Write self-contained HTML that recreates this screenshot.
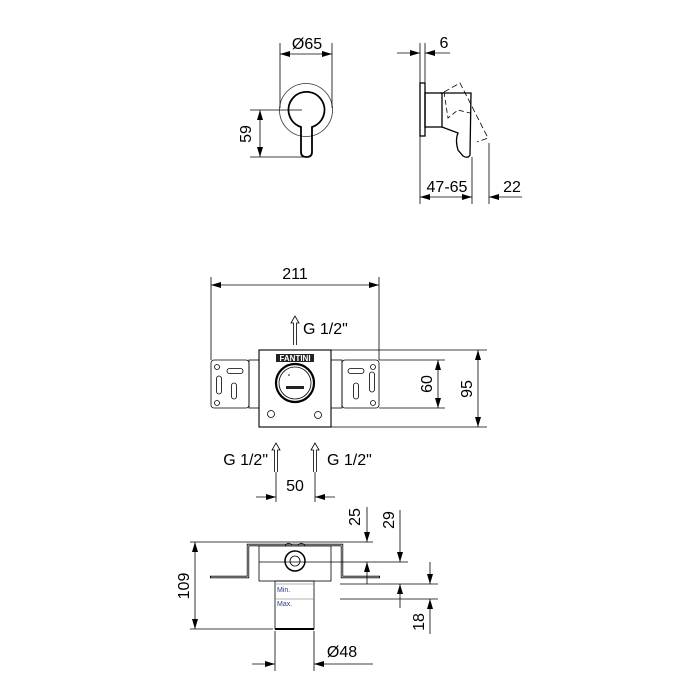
<!DOCTYPE html>
<html><head><meta charset="utf-8"><style>html,body{margin:0;padding:0;background:#fff}svg{display:block}text{font-family:"Liberation Sans",sans-serif;font-size:16px;fill:#000}</style></head><body>
<svg width="700" height="700" viewBox="0 0 700 700" xmlns="http://www.w3.org/2000/svg">
<defs>
<marker id="a" viewBox="0 0 10 6" refX="10" refY="3" markerWidth="10" markerHeight="6" orient="auto-start-reverse" markerUnits="userSpaceOnUse"><path d="M0,0 L10,3 L0,6z" fill="#000"/></marker>
</defs>
<g stroke="#000" stroke-width="0.8" fill="none">
<circle cx="306" cy="110" r="26.5" stroke="#333"/>
<path d="M301,127 A18,18 0 1 1 312,127 L312,152 Q312,157 306.5,157 Q301,157 301,152 Z" stroke-width="1.8"/>
<line x1="280" y1="43" x2="280" y2="108"/><line x1="332" y1="43" x2="332" y2="108"/>
<line x1="280" y1="54" x2="332" y2="54" marker-start="url(#a)" marker-end="url(#a)"/>
<line x1="250" y1="110" x2="302" y2="110"/><line x1="250" y1="157" x2="304" y2="157"/>
<line x1="260" y1="110" x2="260" y2="157" marker-start="url(#a)" marker-end="url(#a)"/>
<rect x="420" y="83" width="5" height="53" stroke-width="1.3"/>
<rect x="425" y="93" width="17" height="34" stroke-width="1.3"/>
<path d="M440,93 L471,93 L470,155 Q468,159 463,156 L458,150 Q455,140 458,133 L442,127" stroke-width="1.3"/>
<path d="M444,92 L460,83 L488,138 L477,142" stroke-dasharray="6,3"/>
<path d="M444,92 L448,118 L458,110 L470,113" stroke-dasharray="5,3"/>
<line x1="420" y1="43" x2="420" y2="83"/><line x1="425" y1="43" x2="425" y2="83"/>
<line x1="397" y1="53" x2="420" y2="53" marker-end="url(#a)"/><line x1="450" y1="53" x2="425" y2="53" marker-end="url(#a)"/>
<line x1="420" y1="136" x2="420" y2="204"/><line x1="472" y1="157" x2="472" y2="204"/><line x1="489" y1="143" x2="489" y2="204"/>
<line x1="420" y1="197" x2="472" y2="197" marker-start="url(#a)" marker-end="url(#a)"/>
<line x1="522" y1="197" x2="489" y2="197" marker-end="url(#a)"/>
<line x1="211" y1="277" x2="211" y2="360"/><line x1="379" y1="277" x2="379" y2="360"/>
<line x1="211" y1="285" x2="379" y2="285" marker-start="url(#a)" marker-end="url(#a)"/>
<rect x="211" y="360" width="38" height="48" rx="3"/>
<rect x="249" y="360" width="10" height="48"/>
<rect x="331" y="360" width="11" height="48"/>
<rect x="342" y="360" width="37" height="48" rx="3"/>
<rect x="259" y="350" width="72" height="77" stroke-width="1.1"/>
<line x1="331" y1="350" x2="487" y2="350"/><line x1="331" y1="427" x2="487" y2="427"/>
<line x1="379" y1="360" x2="445" y2="360"/><line x1="379" y1="408" x2="445" y2="408"/>
<line x1="438" y1="360" x2="438" y2="408" marker-start="url(#a)" marker-end="url(#a)"/>
<line x1="478" y1="350" x2="478" y2="427" marker-start="url(#a)" marker-end="url(#a)"/>
<circle cx="295" cy="383" r="19" stroke-width="2.2"/><circle cx="295" cy="383" r="16"/>
<circle cx="271" cy="414" r="3.5"/><circle cx="318" cy="415" r="3.5"/>
<circle cx="217" cy="367" r="2.5"/><circle cx="217" cy="403" r="2.5"/>
<rect x="227" y="368.5" width="16" height="5" rx="2.5"/>
<rect x="216.5" y="376" width="5" height="18" rx="2.5"/><rect x="231.5" y="383" width="5" height="16" rx="2.5"/>
<circle cx="373" cy="367" r="2.5"/><circle cx="373" cy="403" r="2.5"/>
<rect x="348" y="368.5" width="16" height="5" rx="2.5"/>
<rect x="369.5" y="372" width="5" height="20" rx="2.5"/><rect x="353.5" y="383" width="5" height="16" rx="2.5"/>
<path d="M293.5,345 L293.5,323 L291,323 L295,316 L299,323 L296.5,323 L296.5,345"/>
<path d="M274.5,472 L274.5,450 L272,450 L276,443 L280,450 L277.5,450 L277.5,472"/>
<path d="M313.5,472 L313.5,450 L311,450 L315,443 L319,450 L316.5,450 L316.5,472"/>
<line x1="276" y1="472" x2="276" y2="502"/><line x1="315" y1="472" x2="315" y2="502"/>
<line x1="256" y1="497" x2="276" y2="497" marker-end="url(#a)"/><line x1="335" y1="497" x2="315" y2="497" marker-end="url(#a)"/>
<path d="M210,577 L248,577 L248,545 L342,545 L342,577 L380,577" stroke-width="2.4"/>
<path d="M211,577 L248,577 L248,545 L342,545 L342,577 L379,577" stroke="#fff" stroke-width="0.8"/>
<rect x="259" y="546" width="72" height="35" fill="#fff"/>
<line x1="259" y1="562" x2="408" y2="562"/>
<circle cx="295" cy="561" r="10" stroke-width="1.5"/><circle cx="295" cy="561" r="5"/>
<path d="M285,546 Q288,541 292,545 M298,545 Q302,541 305,546"/>
<rect x="275" y="581" width="39" height="48"/>
<line x1="275" y1="629" x2="314" y2="629" stroke-width="2"/>
<line x1="275" y1="584" x2="314" y2="584" stroke="#999"/><line x1="340" y1="584" x2="438" y2="584"/>
<line x1="275" y1="599" x2="314" y2="599" stroke="#999"/><line x1="340" y1="599" x2="438" y2="599"/>
<line x1="190" y1="542" x2="373" y2="542"/><line x1="190" y1="629" x2="273" y2="629"/>
<line x1="195" y1="542" x2="195" y2="629" marker-start="url(#a)" marker-end="url(#a)"/>
<line x1="367" y1="507" x2="367" y2="542" marker-end="url(#a)"/><line x1="367" y1="584" x2="367" y2="562" marker-end="url(#a)"/>
<line x1="400" y1="510" x2="400" y2="562" marker-end="url(#a)"/><line x1="400" y1="608" x2="400" y2="584" marker-end="url(#a)"/>
<line x1="430" y1="562" x2="430" y2="584" marker-end="url(#a)"/><line x1="430" y1="634" x2="430" y2="599" marker-end="url(#a)"/>
<line x1="275" y1="631" x2="275" y2="671"/><line x1="314" y1="631" x2="314" y2="671"/>
<line x1="252" y1="664" x2="275" y2="664" marker-end="url(#a)"/><line x1="373" y1="664" x2="314" y2="664" marker-end="url(#a)"/>
</g>
<rect x="276" y="354" width="38" height="8" fill="#222"/>
<text x="295" y="361" text-anchor="middle" style="font-size:8px;fill:#fff;font-weight:bold">FANTINI</text>
<rect x="286" y="386" width="18" height="3" fill="#222"/>
<circle cx="289" cy="375" r="0.8" fill="#000"/>
<text x="307" y="49" text-anchor="middle">Ø65</text>
<text transform="translate(251,134) rotate(-90)" text-anchor="middle">59</text>
<text x="444" y="48" text-anchor="middle">6</text>
<text x="447" y="192" text-anchor="middle">47-65</text>
<text x="512" y="192" text-anchor="middle">22</text>
<text x="295" y="279" text-anchor="middle">211</text>
<text x="303" y="334">G 1/2"</text>
<text transform="translate(432,384) rotate(-90)" text-anchor="middle">60</text>
<text transform="translate(472,389) rotate(-90)" text-anchor="middle">95</text>
<text x="268" y="465" text-anchor="end">G 1/2"</text>
<text x="327" y="465">G 1/2"</text>
<text x="295" y="491" text-anchor="middle">50</text>
<text transform="translate(189,586) rotate(-90)" text-anchor="middle">109</text>
<text transform="translate(360,517) rotate(-90)" text-anchor="middle">25</text>
<text transform="translate(394,520) rotate(-90)" text-anchor="middle">29</text>
<text transform="translate(424,622) rotate(-90)" text-anchor="middle">18</text>
<text x="342" y="657" text-anchor="middle">Ø48</text>
<text x="277" y="592" style="font-size:7px;fill:#2a3f7a">Min.</text>
<text x="277" y="606" style="font-size:7px;fill:#2a3f7a">Max.</text>
</svg>
</body></html>
